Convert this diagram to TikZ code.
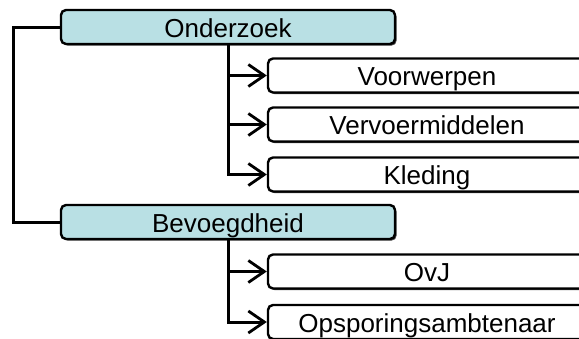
\documentclass[tikz,border=0pt]{standalone}
\usepackage{fontspec}
\setmainfont{Liberation Sans}
\usetikzlibrary{arrows.meta,shadows}
\definecolor{headfill}{RGB}{185,224,228}
\begin{document}
\begin{tikzpicture}[x=0.5pt,y=-0.5pt,
  boxbase/.style={draw=black, line width=1.2pt, rounded corners=2.5pt, inner sep=0pt,
    text height=10.5pt, text depth=0.5pt, font=\fontsize{13}{15}\selectfont,
    drop shadow={shadow xshift=0.8pt, shadow yshift=-0.8pt, fill=black!75, opacity=1}},
  head/.style={boxbase, fill=headfill, minimum width=167pt, minimum height=17pt},
  leaf/.style={boxbase, fill=white, minimum width=159pt, minimum height=17pt},
  conn/.style={draw=black, line width=1.5pt},
  arr/.style={-{Straight Barb[length=8pt,width=11pt,line width=1.4pt]}}]
\useasboundingbox (0,0) rectangle (579,338);
\clip (0,0) rectangle (579,338);
\node[head] (on) at (228,27) {Onderzoek};
\node[head] (be) at (228,222) {Bevoegdheid};
\node[leaf] (c1) at (427,75.5) {Voorwerpen};
\node[leaf] (c2) at (427,124.5) {Vervoermiddelen};
\node[leaf] (c3) at (427,174.5) {Kleding};
\node[leaf] (d1) at (427,271.5) {OvJ};
\node[leaf] (d2) at (427,322) {Opsporingsambtenaar};
\coordinate (lt) at (13,0);
\draw[conn] (on.west) -- (on.west -| lt) |- (be.west);
\draw[conn,arr] (on.south) |- (c1.west);
\draw[conn,arr] (on.south) |- (c2.west);
\draw[conn,arr] (on.south) |- (c3.west);
\draw[conn,arr] (be.south) |- (d1.west);
\draw[conn,arr] (be.south) |- (d2.west);
\end{tikzpicture}
\end{document}
